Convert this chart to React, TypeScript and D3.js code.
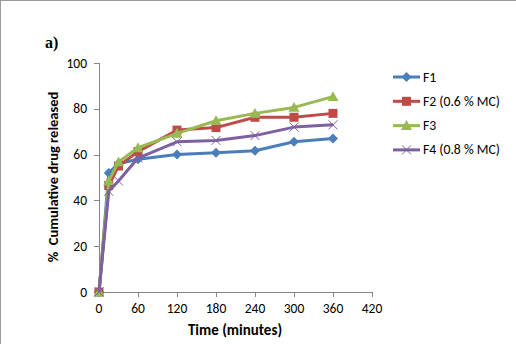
import React from "react";
import * as d3 from "d3";

const times = [0, 15, 30, 60, 120, 180, 240, 300, 360];
const f1 = [0, 52, 56, 58, 60, 60.8, 61.7, 65.6, 67];
const f2 = [0, 46.5, 55, 61.3, 70.7, 71.8, 76.3, 76.3, 78];
const f3 = [0, 48.5, 56.8, 63, 69.3, 74.8, 78, 80.6, 85.3];
const f4 = [0, 44, 48.5, 58.5, 65.6, 66.2, 68.3, 72, 73];
const seriesNames = ["F1", "F2 (0.6 % MC)", "F3", "F4 (0.8 % MC)"];
const seriesColors = ["#4A7EBB", "#BE4B48", "#98B954", "#7D60A0"];
const xTicks = [0, 60, 120, 180, 240, 300, 360, 420];
const yTicks = [0, 20, 40, 60, 80, 100];

const FONT = "Carlito, 'Liberation Sans', Arial, sans-serif";

function Marker({ kind, x, y, color }: { kind: number; x: number; y: number; color: string }) {
  if (kind === 0) {
    const s = 5;
    return <path d={`M${x},${y - s}L${x + s},${y}L${x},${y + s}L${x - s},${y}Z`} fill={color} />;
  }
  if (kind === 1) {
    const s = 4.5;
    return <rect x={x - s} y={y - s} width={2 * s} height={2 * s} fill={color} />;
  }
  if (kind === 2) {
    const s = 5.5;
    return <path d={`M${x},${y - s}L${x + s},${y + s * 0.8}L${x - s},${y + s * 0.8}Z`} fill={color} />;
  }
  const s = 4.5;
  return (
    <path
      d={`M${x - s},${y - s}L${x + s},${y + s}M${x - s},${y + s}L${x + s},${y - s}`}
      stroke={color}
      strokeWidth={1}
      fill="none"
    />
  );
}

export default function App() {
  const W = 516;
  const H = 344;
  const x = d3.scaleLinear().domain([0, 420]).range([99, 372]);
  const y = d3.scaleLinear().domain([0, 100]).range([292, 63]);
  const data = [f1, f2, f3, f4];
  const line = d3
    .line<number>()
    .x((_, i) => x(times[i]))
    .y((d) => y(d));
  const axisColor = "#868686";
  return (
    <svg
      width={W}
      height={H}
      style={{ position: "absolute", left: 0, top: 0, background: "#fff" }}
      fontFamily={FONT}
    >
      <rect x={0} y={0} width={W} height={H} fill="#fff" />
      <line x1={0} y1={0.5} x2={W} y2={0.5} stroke="#9a9a9a" />
      <line x1={0.5} y1={0} x2={0.5} y2={H} stroke="#9a9a9a" />
      <text x={45} y={48} fontFamily="'Times New Roman', 'Liberation Serif', serif" fontWeight="bold" fontSize={16}>
        a)
      </text>
      {/* axes */}
      <line x1={99.5} y1={y(100)} x2={99.5} y2={y(0)} stroke={axisColor} />
      <line x1={99} y1={292.5} x2={372} y2={292.5} stroke={axisColor} />
      {yTicks.map((t) => (
        <g key={"y" + t}>
          <line x1={94} x2={99} y1={Math.round(y(t)) + 0.5} y2={Math.round(y(t)) + 0.5} stroke={axisColor} />
          <text x={87} y={y(t) + 4.5} textAnchor="end" fontSize={13.5} fill="#000">
            {t}
          </text>
        </g>
      ))}
      {xTicks.map((t) => (
        <g key={"x" + t}>
          <line x1={Math.round(x(t)) + 0.5} x2={Math.round(x(t)) + 0.5} y1={292} y2={297} stroke={axisColor} />
          <text x={x(t)} y={313} textAnchor="middle" fontSize={13.5} fill="#000">
            {t}
          </text>
        </g>
      ))}
      <text x={235} y={335} textAnchor="middle" fontSize={15} fontWeight="bold">
        Time (minutes)
      </text>
      <text
        transform="translate(58,177) rotate(-90)"
        textAnchor="middle"
        fontSize={14.5}
        fontWeight="bold"
        xmlSpace="preserve"
      >
        {"%  Cumulative drug released"}
      </text>
      {/* series */}
      {data.map((vals, si) => (
        <g key={"s" + si}>
          <path d={line(vals) || ""} fill="none" stroke={seriesColors[si]} strokeWidth={3} strokeLinejoin="round" />
          {vals.map((v, i) => (
            <Marker key={i} kind={si} x={x(times[i])} y={y(v)} color={seriesColors[si]} />
          ))}
        </g>
      ))}
      {/* legend */}
      {seriesNames.map((n, i) => {
        const ly = 77 + i * 24.3;
        return (
          <g key={"l" + i}>
            <line x1={393} x2={420} y1={ly} y2={ly} stroke={seriesColors[i]} strokeWidth={3} />
            <Marker kind={i} x={406.5} y={ly} color={seriesColors[i]} />
            <text x={423} y={ly + 4.5} fontSize={13.7} fill="#000">
              {n}
            </text>
          </g>
        );
      })}
    </svg>
  );
}
